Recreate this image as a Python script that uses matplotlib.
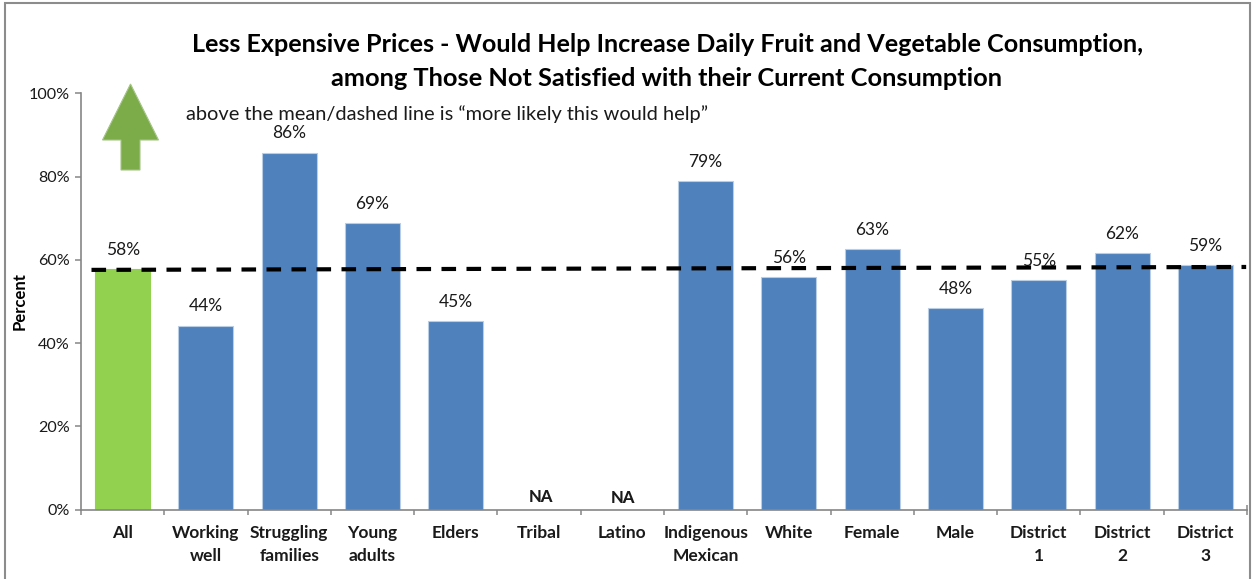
import matplotlib
matplotlib.use('Agg')
import matplotlib.pyplot as plt
from matplotlib.patches import Polygon
import numpy as np

plt.rcParams['font.family'] = ['Lato', 'DejaVu Sans']

W = 1253
H = 579

categories = ['All', 'Working\nwell', 'Struggling\nfamilies', 'Young\nadults', 'Elders', 'Tribal', 'Latino',
              'Indigenous\nMexican', 'White', 'Female', 'Male', 'District\n1', 'District\n2', 'District\n3']
values = [57.7, 44.2, 85.8, 68.9, 45.2, None, None, 78.9, 55.8, 62.6, 48.4, 55.2, 61.6, 58.8]
yticks = [0, 20, 40, 60, 80, 100]
mean_x = [-0.374, 13.49]
mean_y = [57.6, 58.3]

title_1 = 'Less Expensive Prices - Would Help Increase Daily Fruit and Vegetable Consumption,'
title_2 = 'among Those Not Satisfied with their Current Consumption'
note = 'above the mean/dashed line is \u201cmore likely this would help\u201d'

blue = '#4F81BD'
green = '#92D050'
arrow_color = '#7CAC4A'
grey = '#868686'
text_color = '#1a1a1a'

fig = plt.figure(figsize=(W / 100, H / 100), dpi=100)
ax = fig.add_axes([81 / W, 1 - 509.5 / H, (1247 - 81) / W, (509.5 - 93.5) / H])

# the two NA labels do not sit level in the original
na_pos = {5: (5.02, 1.2), 6: (6.01, 0.75)}

x = np.arange(len(categories))
for i, v in enumerate(values):
    if v is None:
        ax.text(na_pos[i][0], na_pos[i][1], 'NA', ha='center', va='bottom', fontsize=12, fontweight=900, color=text_color)
        continue
    ax.bar(i, v, width=0.66, color=green if i == 0 else blue, edgecolor='#b9cde5' if i else green, linewidth=0.8)
    ax.text(i, v + 2.7, '%d%%' % round(v), ha='center', va='bottom', fontsize=12.5, color=text_color)

ax.plot(mean_x, mean_y, color='black', linewidth=3, dashes=(3.5, 2.5), zorder=5)

ax.set_xlim(-0.5, 13.5)
ax.set_ylim(0, 100)
ax.set_yticks(yticks)
ax.set_yticklabels(['%d%%' % t for t in yticks], fontsize=11.6, color=text_color)
ax.set_xticks(x - 0.5, minor=False)
ax.set_xticklabels([])
ax.set_xticks(x, minor=True)
ax.set_xticklabels(categories, minor=True, fontsize=12.5, fontweight='bold', color=text_color, linespacing=1.5)
ax.tick_params(axis='x', which='major', length=3.8, color=grey, width=1.1, direction='out')
ax.tick_params(axis='x', which='minor', length=0, pad=11.5)
ax.tick_params(axis='y', length=4, color=grey, width=1.1, pad=4)
ax.plot([1], [0], transform=ax.transAxes, clip_on=False, marker='|', ms=7, color=grey, mew=1.1)
for s in ['top', 'right']:
    ax.spines[s].set_visible(False)
for s in ['left', 'bottom']:
    ax.spines[s].set_color(grey)
    ax.spines[s].set_linewidth(1.2)

ax.set_ylabel('Percent', fontsize=12, fontweight='bold', color='black', labelpad=1)

# everything below is placed on the figure in pixels from the top left
def px(a, b):
    return a / W, 1 - b / H

fig.text(*px(192, 44), title_1, ha='left', va='center', fontsize=18.1, fontweight='bold', color='black')
fig.text(*px(331, 78), title_2, ha='left', va='center', fontsize=18.3, fontweight='bold', color='black')
fig.text(*px(186, 114), note, ha='left', va='center', fontsize=14.4, color=text_color)

arrow_pts = [(130.5, 84), (158.5, 140), (140, 140), (140, 170), (121, 170), (121, 140), (102.5, 140)]
fig.add_artist(Polygon([px(a, b) for a, b in arrow_pts], closed=True, transform=fig.transFigure,
                       facecolor=arrow_color, edgecolor='#a5c585', linewidth=0.8))

# chart frame, left, top and right edges only
frame = [(5, 579), (5, 2.7), (1250, 2.7), (1250, 579)]
fig.add_artist(Polygon([px(a, b) for a, b in frame], closed=False, fill=False, transform=fig.transFigure,
                       edgecolor='#8c8c8c', linewidth=1.5))

fig.savefig('out.png', dpi=100)
